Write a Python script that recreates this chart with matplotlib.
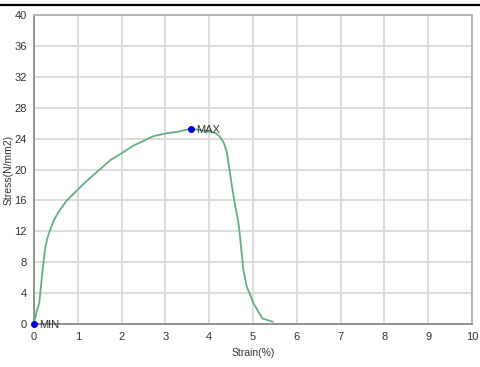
import matplotlib
matplotlib.use("Agg")
import matplotlib.pyplot as plt
from matplotlib.lines import Line2D

strain = [0.0, 0.06, 0.12, 0.18, 0.25, 0.30, 0.37, 0.46, 0.56, 0.75, 1.0, 1.2, 1.5, 1.74, 2.0, 2.27, 2.5, 2.72, 3.03, 3.3, 3.58,
          4.02, 4.15, 4.25, 4.33, 4.40, 4.45, 4.52, 4.59, 4.66, 4.70, 4.78, 4.86, 5.01, 5.12, 5.22, 5.45]
stress = [0.0, 1.6, 2.7, 6.1, 9.6, 11.0, 12.2, 13.5, 14.5, 16.0, 17.4, 18.5, 20.0, 21.2, 22.1, 23.1, 23.7, 24.3, 24.7, 24.9, 25.3,
          24.9, 24.7, 24.2, 23.5, 22.3, 20.5, 17.8, 15.4, 13.4, 11.5, 7.0, 4.8, 2.7, 1.6, 0.7, 0.3]
max_pt = (3.58, 25.3)
min_pt = (0.0, 0.0)
xticks = list(range(0, 11))
yticks = list(range(0, 41, 4))

fig = plt.figure(figsize=(4.8, 3.67), dpi=100)
ax = fig.add_axes([34/480, 1-324/367, (472-34)/480, (324-15)/367])
plt.rcParams['font.family'] = ['Liberation Sans', 'DejaVu Sans']

ax.plot(strain, stress, color='#62b07f', lw=1.3, zorder=3)
ax.plot(*max_pt, 'o', color='#0000dd', ms=4, zorder=4)
ax.plot(*min_pt, 'o', color='#0000dd', ms=4, zorder=4, clip_on=False)
ax.annotate('MAX', max_pt, xytext=(4, -1), textcoords='offset points', va='center', ha='left',
            fontsize=8, color='#333333', family='Liberation Sans')
ax.annotate('MIN', min_pt, xytext=(4, -1), textcoords='offset points', va='center', ha='left',
            fontsize=8, color='#333333', family='Liberation Sans', annotation_clip=False)

ax.set_xlim(0, 10)
ax.set_ylim(0, 40)
ax.set_xticks(xticks)
ax.set_yticks(yticks)
ax.grid(True, color='#d9d9d9', lw=1.3)
ax.set_axisbelow(True)
for s in ['top', 'right']:
    ax.spines[s].set_color('#b0b0b0')
    ax.spines[s].set_linewidth(1.3)
for s in ['left', 'bottom']:
    ax.spines[s].set_color('#8a8a8a')
    ax.spines[s].set_linewidth(1.3)
ax.tick_params(axis='x', length=0, pad=6, labelsize=8, labelcolor='#333333')
ax.tick_params(axis='y', length=0, pad=5, labelsize=8, labelcolor='#333333')
for lab in ax.get_xticklabels() + ax.get_yticklabels():
    lab.set_family('Liberation Sans')
ax.set_xlabel('Strain(%)', fontsize=7.5, color='#333333', family='Liberation Sans', labelpad=4)
ax.set_ylabel('Stress(N/mm2)', fontsize=7.5, color='#333333', family='Liberation Sans')
ax.yaxis.set_label_coords(-0.046, 0.5)

fig.add_artist(Line2D([0, 1], [1-5/367, 1-5/367], color='black', lw=1.6, transform=fig.transFigure))

fig.savefig('out.png', dpi=100)
